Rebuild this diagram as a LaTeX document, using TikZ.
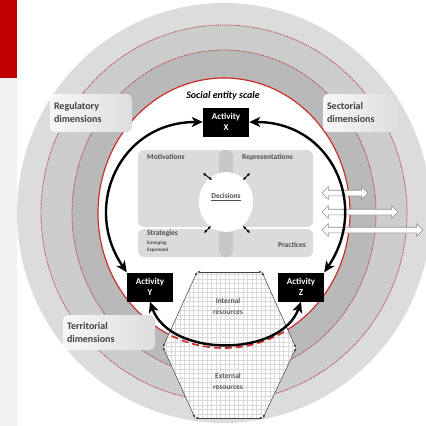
\documentclass[tikz,border=0pt]{standalone}
\usepackage{fontspec}
\setmainfont{Carlito}
\usepackage{tikz}
\usetikzlibrary{arrows.meta,shapes.arrows,shapes.geometric,positioning}
\tikzset{>={Stealth[length=11pt,width=10pt,inset=3pt]}}

\definecolor{barred}{HTML}{C00000}
\definecolor{ringred}{HTML}{C9302C}
\definecolor{dotred}{HTML}{B5403E}
\definecolor{bandout}{HTML}{DCDCDC}
\definecolor{bandmid}{HTML}{CDCDCD}
\definecolor{bandin}{HTML}{B9B9B9}
\definecolor{panelgray}{HTML}{DBDBDB}
\definecolor{panelbar}{HTML}{C8C8C8}
\definecolor{labgray}{HTML}{404040}

\tikzset{
  dimbox/.style={rounded corners=5pt, left color=black!3, right color=black!13,
    text=labgray, font=\fontsize{10}{13}\selectfont\bfseries, align=left,
    inner sep=4pt, minimum height=38pt},
  actbox/.style={fill=black, text=white, font=\fontsize{9}{11}\selectfont\bfseries,
    align=center, minimum width=46pt, minimum height=29pt, inner sep=0pt},
  bigcycle/.style={<->, line width=2.4pt},
  paneltxt/.style={text=black!70, font=\fontsize{7.5}{9}\selectfont\bfseries, inner sep=0pt},
  smalltxt/.style={text=black!70, font=\fontsize{5}{6}\selectfont\bfseries, inner sep=0pt},
  restxt/.style={text=black!65, font=\fontsize{7.5}{11}\selectfont\bfseries, align=center},
  tinyarr/.style={{Latex[length=3pt,width=3pt]}-{Latex[length=3pt,width=3pt]}, line width=0.9pt},
  hexside/.style={{Latex[length=3pt,width=2.5pt]}-{Latex[length=3pt,width=2.5pt]}, line width=0.5pt, black!75},
  flow/.style={shape=double arrow, draw=black!45, fill=white, line width=0.6pt,
    inner sep=2.5pt, double arrow head extend=3.5pt, minimum width=12pt},
  ring/.style={densely dotted, draw=dotred, line width=0.9pt}
}

\begin{document}
\begin{tikzpicture}[x=1pt,y=-1pt]
  \newcommand\Cx{224}
  \newcommand\Cy{213}
  \useasboundingbox (0,0) rectangle (426,426);
  \clip (0,0) rectangle (426,426);

  % page strip
  \fill[black!5] (0,78) rectangle (17,426);
  \fill[barred] (0,0) rectangle (17,78);

  % the scales, outside in
  \fill[bandout] (\Cx,\Cy) ellipse [x radius=207pt, y radius=210pt];
  \filldraw[fill=bandmid, ring] (\Cx,\Cy) ellipse [x radius=183pt, y radius=188pt];
  \filldraw[fill=bandin, ring] (\Cx,\Cy) ellipse [x radius=152pt, y radius=163pt];
  \filldraw[fill=white, draw=ringred, line width=1.2pt] (\Cx,\Cy) ellipse [x radius=126pt, y radius=135pt];

  \node[dimbox, minimum width=82pt, text width=74pt] (regul) at (91,113) {Regulatory\\dimensions};
  \node[dimbox, minimum width=75pt, text width=67pt] (sector) at (360.5,113) {Sectorial\\dimensions};
  \node[dimbox, minimum width=92pt, minimum height=35pt, text width=84pt] (territ) at (109,332.5) {Territorial\\dimensions};
  \node[font=\fontsize{10}{12}\selectfont\bfseries\itshape] (scale) at (223,96) {Social entity scale};

  % inner panel
  \fill[panelgray, rounded corners=6pt] (138,150) rectangle (313,227);
  \fill[panelgray, rounded corners=6pt] (138,229) rectangle (313,257);
  \fill[panelbar, rounded corners=6pt] (219,150) rectangle (233,257);
  \node[ellipse, fill=white, minimum width=54pt, minimum height=60pt, inner sep=0pt] (dec) at (226,202) {};
  \node[paneltxt] (declab) at (226,197) {\underline{Decisions}};

  \node[paneltxt, anchor=west] (motiv) at (147,157) {Motivations};
  \node[paneltxt, anchor=west] (repr) at (242,157) {Representations};
  \node[paneltxt, anchor=west] (strat) at (147,234) {Strategies};
  \node[smalltxt, anchor=west] (emerg) at (147,243) {Emerging};
  \node[smalltxt, anchor=west] (expr) at (147,250) {Expressed};
  \node[paneltxt, anchor=east] (pract) at (306,245) {Practices};

  \coordinate (m1) at (203,173); \coordinate (m2) at (212,180);
  \coordinate (r1) at (250,173); \coordinate (r2) at (243,180);
  \coordinate (s1) at (204,233); \coordinate (s2) at (211,226);
  \coordinate (p1) at (250,233); \coordinate (p2) at (243,226);
  \draw[tinyarr] (m1) -- (m2); % motivations
  \draw[tinyarr] (r1) -- (r2); % representations
  \draw[tinyarr] (s1) -- (s2); % strategies
  \draw[tinyarr] (p1) -- (p2); % practices

  % resources
  \coordinate (h1) at (197,272);
  \coordinate (h2) at (262,272);
  \coordinate (h3) at (296,348);
  \coordinate (h4) at (263,418);
  \coordinate (h5) at (195,418);
  \coordinate (h6) at (163,347);
  \begin{scope}
    \clip (h1) -- (h2) -- (h3) -- (h4) -- (h5) -- (h6) -- cycle;
    \fill[white] (150,260) rectangle (310,426);
    \draw[black!15, line width=0.3pt, step=4.5pt] (150,260) grid (310,426);
    \draw[ringred, line width=1.7pt, dash pattern=on 7pt off 4pt] (\Cx,\Cy) ellipse [x radius=126pt, y radius=135pt];
  \end{scope}
  \foreach \a/\b in {h1/h2,h2/h3,h3/h4,h4/h5,h5/h6,h6/h1}
    \draw[hexside] (\a) -- (\b);
  \node[restxt] (intres) at (228,306) {Internal\\resources};
  \node[restxt] (extres) at (228,381) {External\\resources};

  % exchanges
  \node[flow, minimum height=46pt] (flowa) at (345,193) {};
  \node[flow, minimum height=76pt] (flowb) at (360,212) {};
  \node[flow, minimum height=101pt] (flowc) at (372.5,230) {};

  % activities
  \node[actbox] (actX) at (226,122) {Activity\\X};
  \node[actbox] (actY) at (150,287) {Activity\\Y};
  \node[actbox] (actZ) at (301,287) {Activity\\Z};

  \draw[bigcycle] (actX.west) .. controls +(-83,0) and +(-45,-66) .. (actY.north west); %% X<->Y
  \draw[bigcycle] (actX.east) .. controls +(83,0) and +(45,-66) .. (actZ.north east); %% X<->Z
  \draw[bigcycle] (actY.south) .. controls +(20,56) and +(-20,56) .. (actZ.south); %% Y<->Z
\end{tikzpicture}
\end{document}
